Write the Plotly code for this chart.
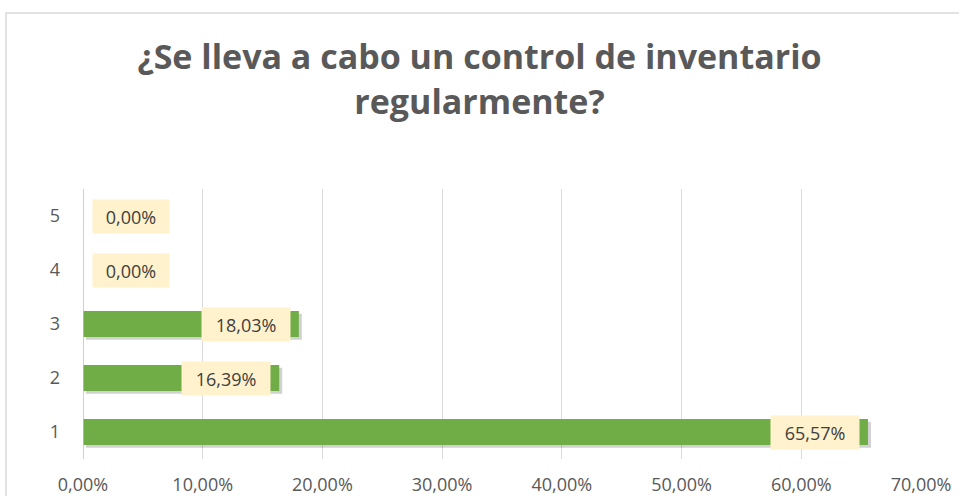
import plotly.graph_objects as go

categories = [1, 2, 3, 4, 5]
values = [65.57, 16.39, 18.03, 0.0, 0.0]
x_ticks = [0, 10, 20, 30, 40, 50, 60, 70]
title = "¿Se lleva a cabo un control de inventario<br>regularmente?"

FONT = "Open Sans"
GRAY = "#595959"

def pct(v):
    return f"{v:.2f}".replace(".", ",") + "%"

fig = go.Figure()

# soft shadow under the bars
fig.add_trace(go.Bar(
    y=categories, x=values, base=0.25, orientation="h",
    width=0.48, offset=-0.29,
    marker=dict(color="rgba(0,0,0,0.18)", line=dict(width=0)),
    hoverinfo="skip", showlegend=False,
))
fig.add_trace(go.Bar(
    y=categories, x=values, orientation="h",
    width=0.48, offset=-0.24,
    marker=dict(color="#70AD47", line=dict(width=0)),
    showlegend=False,
))

# data labels
for c, v in zip(categories, values):
    txt = pct(v)
    if v > 0:
        fig.add_annotation(x=v, y=c, text=txt, showarrow=False,
                           xanchor="right", xshift=-8, width=12 * len(txt) + 6)
    else:
        fig.add_annotation(x=0, y=c, text=txt, showarrow=False,
                           xanchor="left", xshift=9, width=12 * len(txt) + 6)
fig.update_annotations(font=dict(family=FONT, size=18, color="#404040"),
                       bgcolor="#FFF2CC", borderpad=5, height=23)

fig.update_layout(
    width=959, height=496,
    margin=dict(l=83, r=38, t=189, b=37),
    paper_bgcolor="white", plot_bgcolor="white",
    barmode="overlay",
    title=dict(text="<b>" + title + "</b>", x=0.5, xanchor="center",
               y=0.86, yanchor="top",
               font=dict(family=FONT, size=34, color=GRAY)),
    font=dict(family=FONT, color=GRAY),
    xaxis=dict(range=[0, 70], tickvals=x_ticks,
               ticktext=[pct(t) for t in x_ticks],
               showgrid=True, gridcolor="#D9D9D9", gridwidth=1,
               zeroline=False, ticks="", tickfont=dict(size=18, color=GRAY),
               ticklabelstandoff=13,
               showline=False, fixedrange=True, automargin=False),
    yaxis=dict(range=[0.5, 5.5], tickvals=categories,
               showgrid=False, zeroline=False, ticks="",
               ticklabelstandoff=22, automargin=False,
               tickfont=dict(size=18, color=GRAY), fixedrange=True),
    shapes=[
        dict(type="rect", xref="paper", yref="paper",
             x0=-0.0919, x1=1.2, y0=-0.3, y1=1.652,
             line=dict(color="#D9D9D9", width=1.5), layer="below"),
        dict(type="line", xref="x", yref="paper", x0=0, x1=0, y0=0, y1=1,
             line=dict(color="#BFBFBF", width=1.5)),
    ],
)

fig.write_html("out.html", config={"displayModeBar": False},
               post_script="document.body.style.margin='0';")
